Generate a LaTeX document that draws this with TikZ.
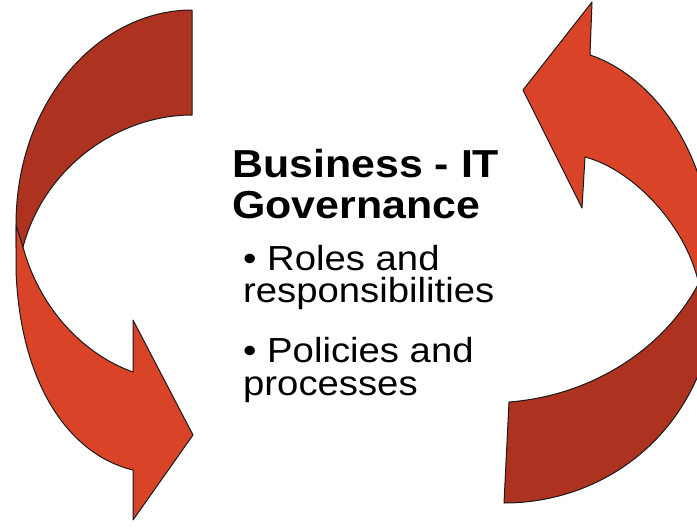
\documentclass[tikz,border=0pt]{standalone}
\usepackage{fontspec}
\usepackage{tikz}
\usepackage{xcolor}
\newfontfamily\govfont{Liberation Sans}[FakeStretch=1.1]
\definecolor{frontcolor}{RGB}{217,67,40}
\definecolor{backcolor}{RGB}{174,50,32}
\tikzset{
    baseband/.style={draw=black!90, line width=1pt, line join=round},
    frontband/.style={baseband, fill=frontcolor},
    backband/.style={baseband, fill=backcolor},
    basetext/.style={anchor=base west, inner sep=0pt, text=black},
    titletext/.style={basetext, font=\govfont\bfseries\fontsize{39}{43}\selectfont},
    itemtext/.style={basetext, font=\govfont\fontsize{34.8}{36}\selectfont}
}

\begin{document}
\begin{tikzpicture}[x=1pt, y=-1pt]

\useasboundingbox (0,0) rectangle (697,531);
\clip (0,0) rectangle (697,531);

% Left arrow, back part
\draw[backband] (192,10) .. controls (100,10) and (16,100) .. (16,225)
    -- (16,247) -- (23,247) .. controls (45,165) and (120,115) .. (192,115) -- cycle;

% Left arrow, front part with head
\draw[frontband] (16,225) -- (16,270) .. controls (20,385) and (70,455) .. (133,470)
    -- (133,520) -- (193,435) -- (133,320) -- (133,372)
    .. controls (85,355) and (40,310) .. (23,247) -- cycle;

% Right arrow, back part
\draw[backband] (504,503) -- (509,402) .. controls (600,395) and (675,340) .. (705,270)
    -- (712,270) -- (712,330) .. controls (690,440) and (600,503) .. cycle;

% Right arrow, front part with head
\draw[frontband] (590,55) .. controls (650,75) and (712,150) .. (712,260)
    -- (712,290) -- (700,290) .. controls (690,230) and (635,170) .. (585,157)
    -- (582,208) -- (523,90) -- (592,2) -- cycle;

% Title
\node[titletext] (title1) at (232,177) {Business - IT};
\node[titletext] (title2) at (232,218) {Governance};

% Items
\node[itemtext] (roles1) at (243,270) {• Roles and};
\node[itemtext] (roles2) at (243,302) {responsibilities};
\node[itemtext] (policies1) at (243,362) {• Policies and};
\node[itemtext] (policies2) at (243,395) {processes};

\end{tikzpicture}
\end{document}
